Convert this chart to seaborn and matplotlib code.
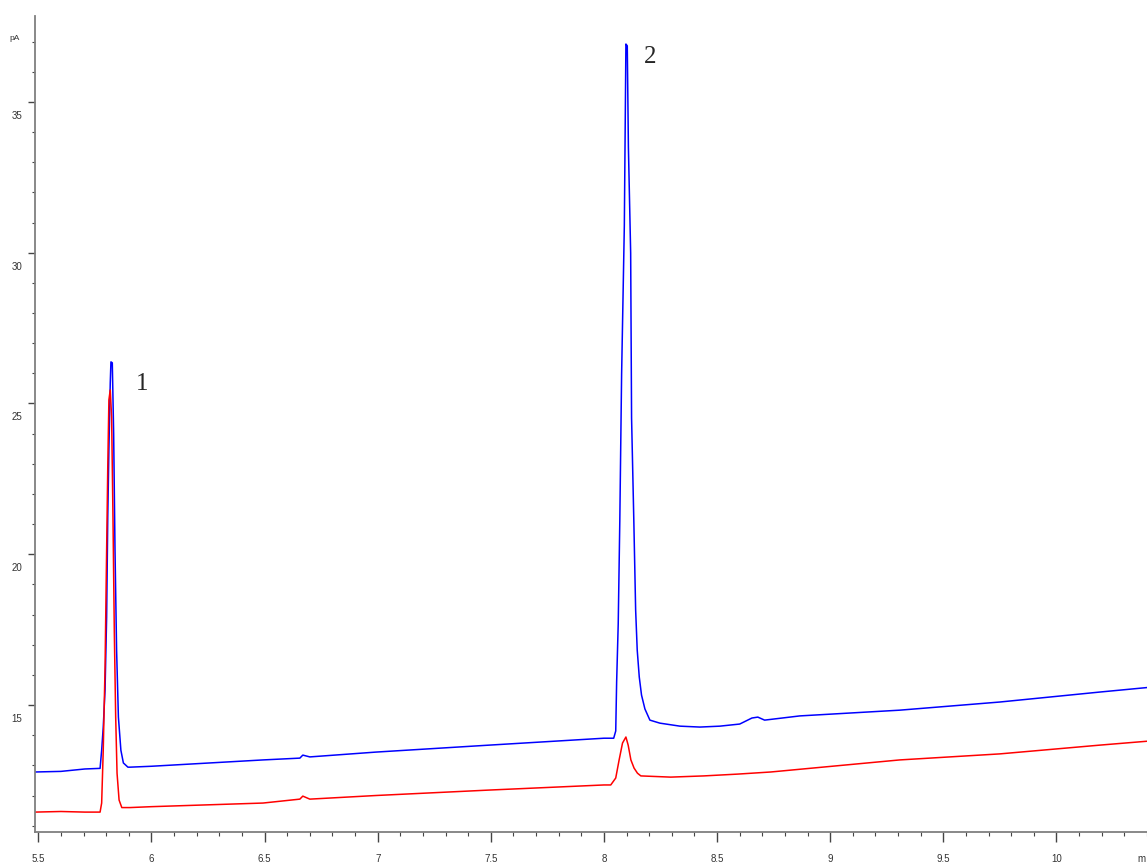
import numpy as np
import pandas as pd
import matplotlib
matplotlib.use("Agg")
import matplotlib.pyplot as plt
import matplotlib.transforms as mtrans
from matplotlib.ticker import MultipleLocator
import seaborn as sns

sns.set_theme(style="white")
plt.rcParams['font.family'] = ['Liberation Sans', 'DejaVu Sans']

# retention time (min) / signal (pA)
blue_time = [5.485, 5.60, 5.706, 5.773, 5.780, 5.787, 5.795, 5.802, 5.807, 5.812,
             5.818, 5.821, 5.827, 5.833, 5.839, 5.846, 5.854, 5.865, 5.876, 5.896,
             5.905, 6.0, 6.493, 6.656, 6.669, 6.70, 6.992, 7.491, 8.0, 8.043,
             8.052, 8.056, 8.063, 8.070, 8.078, 8.090, 8.097, 8.103, 8.108, 8.118,
             8.122, 8.132, 8.140, 8.147, 8.156, 8.166, 8.181, 8.203, 8.247, 8.336,
             8.424, 8.512, 8.60, 8.654, 8.68, 8.71, 8.866, 9.307, 9.749, 10.19, 10.40]
blue_signal = [12.78, 12.80, 12.88, 12.90, 13.5, 14.27, 15.5, 17.92, 21.24, 23.46,
               25.68, 26.38, 26.35, 24.0, 20.14, 16.82, 14.6, 13.5, 13.08, 12.94,
               12.94, 12.97, 13.18, 13.24, 13.34, 13.28, 13.44, 13.67, 13.90, 13.90,
               14.14, 15.76, 17.69, 21.1, 25.98, 30.89, 36.92, 36.86, 33.5, 29.99,
               24.52, 21.1, 18.15, 16.82, 15.93, 15.33, 14.87, 14.50, 14.40, 14.30,
               14.27, 14.30, 14.37, 14.57, 14.60, 14.50, 14.64, 14.83, 15.10, 15.43, 15.58]

red_time = [5.485, 5.60, 5.706, 5.773, 5.780, 5.787, 5.795, 5.800, 5.807, 5.812,
            5.818, 5.824, 5.830, 5.836, 5.842, 5.848, 5.857, 5.869, 5.896, 5.905,
            6.0, 6.493, 6.656, 6.669, 6.70, 6.992, 7.491, 8.0, 8.03, 8.052,
            8.067, 8.082, 8.097, 8.107, 8.119, 8.133, 8.148, 8.163, 8.295, 8.441,
            8.591, 8.737, 9.307, 9.749, 10.19, 10.40]
red_signal = [11.45, 11.47, 11.45, 11.45, 11.75, 13.5, 16.26, 19.05, 22.9, 25.12,
              25.45, 24.55, 21.24, 17.39, 14.6, 12.74, 11.85, 11.6, 11.6, 11.6,
              11.63, 11.75, 11.88, 11.98, 11.88, 12.0, 12.18, 12.35, 12.35, 12.58,
              13.18, 13.74, 13.94, 13.67, 13.18, 12.91, 12.74, 12.65, 12.61, 12.65,
              12.71, 12.78, 13.18, 13.38, 13.67, 13.80]

peak_labels = ['1', '2']
peak_label_time = [5.958, 8.203]
peak_label_signal = [25.65, 36.49]

blue_df = pd.DataFrame({'time': blue_time, 'signal': blue_signal})
red_df = pd.DataFrame({'time': red_time, 'signal': red_signal})

fig = plt.figure(figsize=(11.47, 8.67), dpi=100)
ax = fig.add_axes([35 / 1147, 35 / 867, 1 - 35 / 1147, (832 - 16) / 867])

sns.lineplot(data=blue_df, x='time', y='signal', color='#0000ff', linewidth=1.1,
             sort=False, estimator=None, ax=ax)
sns.lineplot(data=red_df, x='time', y='signal', color='#ff0000', linewidth=1.1,
             sort=False, estimator=None, ax=ax)

for lab, t, s in zip(peak_labels, peak_label_time, peak_label_signal):
    ax.text(t, s, lab, ha='center', va='center', fontsize=18,
            family=['Liberation Serif', 'DejaVu Serif'])

ax.set_xlim(5.4854, 10.40)
ax.set_ylim(10.79, 37.85)
ax.set_xlabel('')
ax.set_ylabel('')

ax.xaxis.set_minor_locator(MultipleLocator(0.1))
ax.yaxis.set_minor_locator(MultipleLocator(1))
ax.set_xticks([5.5, 6, 6.5, 7, 7.5, 8, 8.5, 9, 9.5, 10])
ax.set_xticklabels(['5.5', '6', '6.5', '7', '7.5', '8', '8.5', '9', '9.5', '10'])
ax.set_yticks([15, 20, 25, 30, 35])
ax.set_yticklabels(['15', '20', '25', '30', '35'])

sns.despine(ax=ax, top=True, right=True)
for side in ['left', 'bottom']:
    ax.spines[side].set_color('#7f7f7f')
    ax.spines[side].set_linewidth(1.3)

ax.tick_params(axis='both', which='major', direction='out', color='#444444',
               width=1.0, labelsize=7, labelcolor='#333333')
ax.tick_params(axis='x', which='major', length=7, pad=9, bottom=True)
ax.tick_params(axis='x', which='minor', length=3, width=0.8, color='#444444', bottom=True)
ax.tick_params(axis='y', which='major', length=5, pad=4, left=True)
ax.tick_params(axis='y', which='minor', length=2.5, width=0.8, color='#444444', left=True)

shift = mtrans.ScaledTranslation(0, -0.13, fig.dpi_scale_trans)
for lbl in ax.get_yticklabels():
    lbl.set_transform(lbl.get_transform() + shift)

fig.text(15 / 1147, 1 - 38 / 867, 'pA', ha='center', va='center', fontsize=6, color='#333333')
fig.text(1146 / 1147, 1 - 859 / 867, 'm', ha='right', va='center', fontsize=7, color='#333333')

fig.savefig('out.png', dpi=100)
